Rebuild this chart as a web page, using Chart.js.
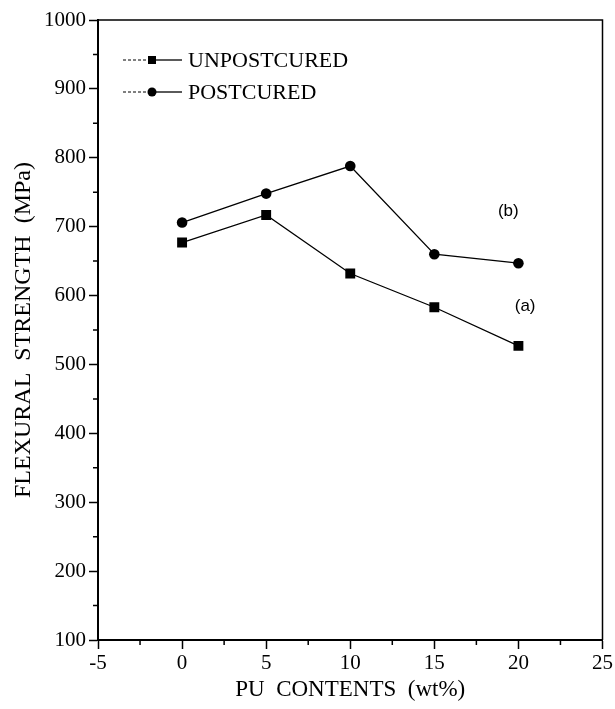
<!DOCTYPE html>
<html>
<head>
<meta charset="utf-8">
<script src="https://cdn.jsdelivr.net/npm/chart.js@4"></script>
<style>
  body { margin: 0; background: #fff; }
  #wrap { width: 615px; height: 709px; }
</style>
</head>
<body>
<div id="wrap"><canvas id="chart" width="615" height="709"></canvas></div>
<script>
// values
var puContents = [0, 5, 10, 15, 20];
var unpostcured = [677, 717, 632, 583, 527];
var postcured = [706, 748, 788, 660, 647];
var seriesNames = ["UNPOSTCURED", "POSTCURED"];
var curveLabels = ["(b)", "(a)"];
var curveLabelX = [19.4, 20.4];
var curveLabelY = [723, 585];

var serif = "'Liberation Serif', 'Times New Roman', serif";
var sans = "'Liberation Sans', Arial, sans-serif";

function toPoints(xs, ys) {
  var out = [];
  for (var i = 0; i < xs.length; i++) {
    out.push({x: xs[i], y: ys[i]});
  }
  return out;
}

// frame, minor ticks, legend and curve labels
var extras = {
  id: "extras",
  afterDraw: function(chart) {
    var ctx = chart.ctx;
    var a = chart.chartArea;
    var xs = chart.scales.x;
    var ys = chart.scales.y;
    ctx.save();
    ctx.strokeStyle = "#000";
    ctx.lineWidth = 1.5;
    ctx.beginPath();
    ctx.moveTo(a.left, a.top);
    ctx.lineTo(a.right, a.top);
    ctx.lineTo(a.right, a.bottom);
    ctx.stroke();

    // minor ticks
    ctx.lineWidth = 1.5;
    ctx.beginPath();
    for (var v = 150; v < 1000; v += 100) {
      var py = ys.getPixelForValue(v);
      ctx.moveTo(a.left - 5, py);
      ctx.lineTo(a.left, py);
    }
    for (var u = -2.5; u < 25; u += 5) {
      var px = xs.getPixelForValue(u);
      ctx.moveTo(px, a.bottom);
      ctx.lineTo(px, a.bottom + 5);
    }
    ctx.stroke();

    // legend
    var rows = [60, 92];
    for (var i = 0; i < seriesNames.length; i++) {
      var y = rows[i];
      ctx.lineWidth = 1;
      ctx.setLineDash([3, 2]);
      ctx.beginPath();
      ctx.moveTo(123, y);
      ctx.lineTo(148, y);
      ctx.stroke();
      ctx.setLineDash([]);
      ctx.lineWidth = 1.3;
      ctx.beginPath();
      ctx.moveTo(156, y);
      ctx.lineTo(182, y);
      ctx.stroke();
      ctx.fillStyle = "#000";
      ctx.beginPath();
      if (i === 0) {
        ctx.rect(148, y - 4, 8, 8);
      } else {
        ctx.arc(152, y, 4.5, 0, Math.PI * 2);
      }
      ctx.fill();
      ctx.font = "22px " + serif;
      ctx.textBaseline = "middle";
      ctx.textAlign = "left";
      ctx.fillText(seriesNames[i], 188, y + 1);
    }

    // curve labels
    ctx.font = "17px " + sans;
    ctx.textAlign = "center";
    for (var k = 0; k < curveLabels.length; k++) {
      ctx.fillText(curveLabels[k], xs.getPixelForValue(curveLabelX[k]), ys.getPixelForValue(curveLabelY[k]));
    }
    ctx.restore();
  }
};

var ctx = document.getElementById("chart").getContext("2d");
var chart = new Chart(ctx, {
  type: "line",
  data: {
    datasets: [{
      label: seriesNames[0],
      data: toPoints(puContents, unpostcured),
      borderColor: "#000",
      backgroundColor: "#000",
      borderWidth: 1.3,
      pointStyle: "rect",
      pointRadius: 7,
      pointBorderWidth: 0
    }, {
      label: seriesNames[1],
      data: toPoints(puContents, postcured),
      borderColor: "#000",
      backgroundColor: "#000",
      borderWidth: 1.3,
      pointStyle: "circle",
      pointRadius: 5.3,
      pointBorderWidth: 0
    }]
  },
  options: {
    responsive: false,
    animation: false,
    layout: { padding: { top: 20, right: 11, left: 0, bottom: 0 } },
    plugins: {
      legend: { display: false },
      tooltip: { enabled: false }
    },
    scales: {
      x: {
        type: "linear",
        min: -5,
        max: 25,
        ticks: { stepSize: 5, color: "#000", font: { family: serif, size: 21 }, padding: 2, maxRotation: 0 },
        grid: { drawOnChartArea: false, drawTicks: true, tickLength: 9, tickColor: "#000", tickWidth: 1.5 },
        border: { display: true, color: "#000", width: 2 },
        title: { display: true, text: "PU  CONTENTS  (wt%)", color: "#000", font: { family: serif, size: 23 }, padding: { top: 0, bottom: 5 } },
        afterFit: function(scale) { scale.height = 69; }
      },
      y: {
        min: 100,
        max: 1000,
        ticks: {
          stepSize: 100, color: "#000", font: { family: serif, size: 21 }, padding: 3,
          callback: function(value) { return String(value); }
        },
        grid: { drawOnChartArea: false, drawTicks: true, tickLength: 9, tickColor: "#000", tickWidth: 1.5 },
        border: { display: true, color: "#000", width: 2 },
        title: { display: true, text: "FLEXURAL  STRENGTH  (MPa)", color: "#000", font: { family: serif, size: 24 }, padding: { top: 9, bottom: 0 } },
        afterFit: function(scale) { scale.width = 98; }
      }
    }
  },
  plugins: [extras]
});
</script>
</body>
</html>
